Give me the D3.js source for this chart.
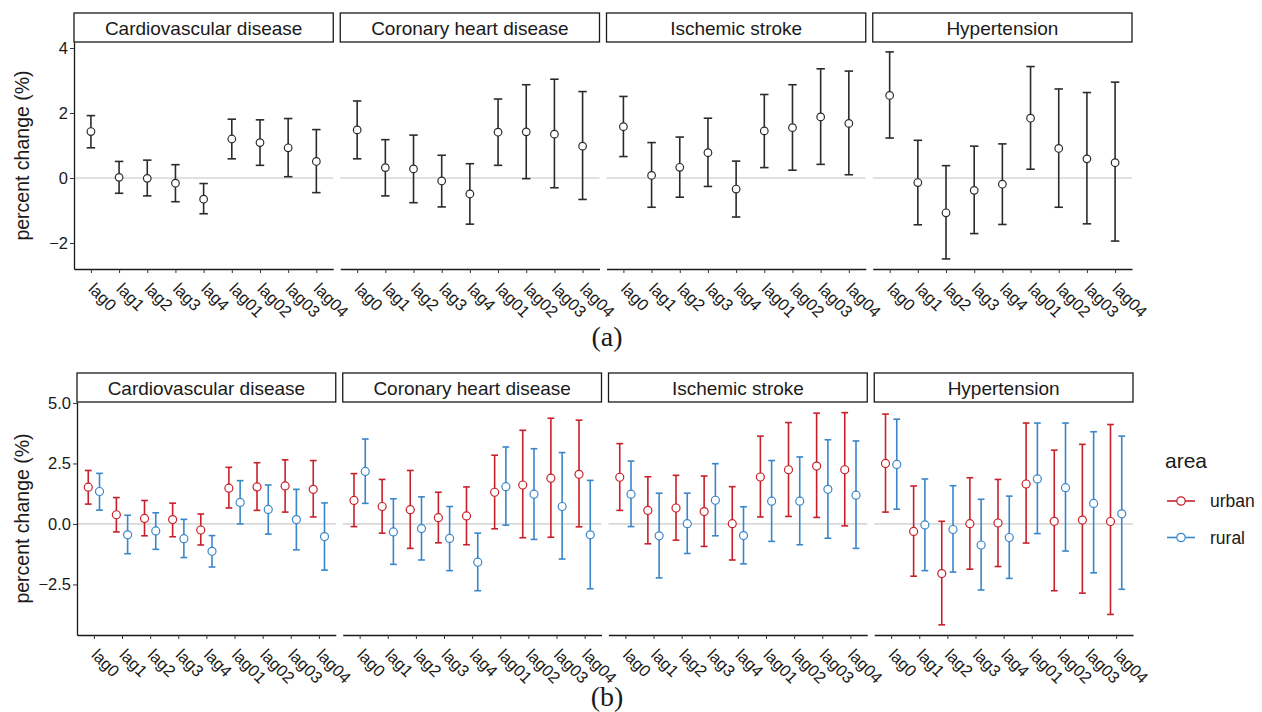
<!DOCTYPE html>
<html>
<head>
<meta charset="utf-8">
<script src="https://cdn.jsdelivr.net/npm/d3@7"></script>
<style>
  body { margin: 0; background: #fff; }
  svg text { font-family: "Liberation Sans", Arial, sans-serif; fill: #1a1a1a; }
</style>
</head>
<body>
<svg id="chart" width="1262" height="712"></svg>
<script>
// Categories
const lags = ['lag0', 'lag1', 'lag2', 'lag3', 'lag4', 'lag01', 'lag02', 'lag03', 'lag04'];
const diseases = ['Cardiovascular disease', 'Coronary heart disease', 'Ischemic stroke', 'Hypertension'];
const areas = ['urban', 'rural'];
const areaColors = ['#c8202a', '#3a86c8'];

// (a) overall estimates, one row per disease
const overallEst = [
    [1.43, 0.02, -0.01, -0.16, -0.65, 1.20, 1.09, 0.93, 0.51],
    [1.48, 0.32, 0.28, -0.09, -0.49, 1.41, 1.42, 1.35, 0.98],
    [1.58, 0.08, 0.33, 0.78, -0.34, 1.45, 1.55, 1.88, 1.68],
    [2.54, -0.14, -1.07, -0.38, -0.19, 1.84, 0.91, 0.59, 0.47],
];
const overallLow = [
    [0.93, -0.47, -0.55, -0.73, -1.10, 0.59, 0.39, 0.04, -0.45],
    [0.59, -0.55, -0.76, -0.89, -1.42, 0.39, -0.02, -0.30, -0.66],
    [0.66, -0.90, -0.59, -0.26, -1.20, 0.32, 0.24, 0.42, 0.10],
    [1.23, -1.44, -2.49, -1.71, -1.43, 0.27, -0.90, -1.41, -1.94],
];
const overallHigh = [
    [1.92, 0.51, 0.55, 0.41, -0.17, 1.81, 1.79, 1.83, 1.49],
    [2.37, 1.18, 1.32, 0.70, 0.44, 2.43, 2.87, 3.04, 2.66],
    [2.51, 1.09, 1.26, 1.84, 0.52, 2.57, 2.87, 3.36, 3.29],
    [3.88, 1.16, 0.38, 0.98, 1.05, 3.43, 2.74, 2.63, 2.95],
];

// (b) urban estimates
const urbanEst = [
    [1.52, 0.38, 0.23, 0.18, -0.25, 1.48, 1.53, 1.57, 1.43],
    [0.97, 0.72, 0.59, 0.26, 0.33, 1.31, 1.61, 1.89, 2.05],
    [1.93, 0.56, 0.66, 0.51, 0.01, 1.94, 2.24, 2.39, 2.24],
    [2.50, -0.31, -2.05, 0.01, 0.04, 1.65, 0.11, 0.16, 0.10],
];
const urbanLow = [
    [0.82, -0.33, -0.49, -0.53, -0.87, 0.66, 0.56, 0.49, 0.29],
    [-0.11, -0.38, -1.01, -0.78, -0.86, -0.20, -0.57, -0.55, -0.12],
    [0.56, -0.82, -0.67, -0.93, -1.49, 0.29, 0.31, 0.27, -0.08],
    [0.49, -2.16, -4.17, -1.87, -1.76, -0.79, -2.76, -2.86, -3.74],
];
const urbanHigh = [
    [2.21, 1.09, 0.97, 0.86, 0.41, 2.34, 2.53, 2.65, 2.62],
    [2.08, 1.84, 2.21, 1.31, 1.53, 2.84, 3.87, 4.37, 4.29],
    [3.32, 1.95, 2.01, 1.98, 1.54, 3.63, 4.19, 4.58, 4.60],
    [4.54, 1.57, 0.11, 1.91, 1.84, 4.17, 3.05, 3.29, 4.11],
];

// (b) rural estimates
const ruralEst = [
    [1.34, -0.45, -0.29, -0.61, -1.13, 0.89, 0.60, 0.18, -0.52],
    [2.17, -0.33, -0.19, -0.60, -1.58, 1.54, 1.23, 0.72, -0.45],
    [1.23, -0.49, 0.01, 0.98, -0.48, 0.94, 0.94, 1.43, 1.19],
    [2.46, -0.04, -0.23, -0.87, -0.56, 1.86, 1.50, 0.85, 0.42],
];
const ruralLow = [
    [0.57, -1.23, -1.05, -1.39, -1.78, 0.00, -0.42, -1.07, -1.91],
    [0.85, -1.67, -1.49, -1.93, -2.76, -0.05, -0.64, -1.45, -2.68],
    [-0.11, -2.23, -1.22, -0.49, -1.65, -0.72, -0.86, -0.59, -1.01],
    [0.61, -1.93, -1.99, -2.73, -2.25, -0.40, -1.12, -2.02, -2.70],
];
const ruralHigh = [
    [2.09, 0.36, 0.46, 0.19, -0.48, 1.79, 1.61, 1.43, 0.87],
    [3.51, 1.04, 1.12, 0.72, -0.38, 3.18, 3.11, 2.95, 1.80],
    [2.60, 1.27, 1.27, 2.49, 0.71, 2.62, 2.77, 3.48, 3.43],
    [4.33, 1.86, 1.58, 1.02, 1.15, 4.17, 4.17, 3.81, 3.63],
];

// Axis ticks
const ticksA = [-2, 0, 2, 4];
const ticksB = [-2.5, 0, 2.5, 5];

const svg = d3.select('#chart');

// Draw one row of four facets
function drawPanel(cfg) {
    const gap = 7;
    const fw = (cfg.right - cfg.left - 3 * gap) / 4;
    const plotTop = cfg.top + 29;

    const y = d3.scaleLinear().domain(cfg.domain).range([cfg.bottom, plotTop]);

    diseases.forEach((name, i) => {
        const x0 = cfg.left + i * (fw + gap);
        const x = d3.scalePoint().domain(lags).range([x0, x0 + fw]).padding(0.6);
        const step = x.step();
        const g = svg.append('g');

        // strip
        g.append('rect')
            .attr('x', x0).attr('y', cfg.top)
            .attr('width', fw).attr('height', 29)
            .attr('fill', '#fff').attr('stroke', '#1a1a1a').attr('stroke-width', 1.3);
        g.append('text')
            .attr('x', x0 + fw / 2).attr('y', cfg.top + 15)
            .attr('text-anchor', 'middle').attr('dominant-baseline', 'central')
            .style('font-size', '19px')
            .text(name);

        // zero reference line
        g.append('line')
            .attr('x1', x0).attr('x2', x0 + fw)
            .attr('y1', y(0)).attr('y2', y(0))
            .attr('stroke', cfg.zeroColor).attr('stroke-width', cfg.zeroWidth);

        // error bars + points for each series
        cfg.series.forEach((s) => {
            const cap = cfg.capFrac * step;
            lags.forEach((lag, j) => {
                const cx = x(lag) + s.offset * step;
                const bar = g.append('g')
                    .attr('stroke', s.color).attr('stroke-width', 1.6).attr('fill', 'none');
                bar.append('line')
                    .attr('x1', cx).attr('x2', cx)
                    .attr('y1', y(s.low[i][j])).attr('y2', y(s.high[i][j]));
                bar.append('line')
                    .attr('x1', cx - cap).attr('x2', cx + cap)
                    .attr('y1', y(s.low[i][j])).attr('y2', y(s.low[i][j]));
                bar.append('line')
                    .attr('x1', cx - cap).attr('x2', cx + cap)
                    .attr('y1', y(s.high[i][j])).attr('y2', y(s.high[i][j]));
                g.append('circle')
                    .attr('cx', cx).attr('cy', y(s.est[i][j]))
                    .attr('r', cfg.radius)
                    .attr('fill', '#fff').attr('stroke', s.color).attr('stroke-width', 1.2);
            });
        });

        // bottom axis with rotated labels
        const xAxis = g.append('g')
            .attr('transform', `translate(0,${cfg.bottom})`)
            .call(d3.axisBottom(x).tickSize(4).tickSizeOuter(0));
        xAxis.select('.domain').attr('stroke', '#1a1a1a').attr('stroke-width', 1.3);
        xAxis.selectAll('.tick line').attr('stroke', '#333');
        xAxis.selectAll('.tick text')
            .attr('x', 0).attr('y', 0).attr('dy', 0)
            .attr('text-anchor', 'start')
            .attr('transform', 'translate(-4,21) rotate(45)')
            .style('font-size', '16.5px')
            .style('font-family', '"Liberation Sans", Arial, sans-serif')
            .attr('fill', '#1a1a1a');

        // left axis only on first facet
        if (i === 0) {
            const yAxis = g.append('g')
                .attr('transform', `translate(${x0},0)`)
                .call(d3.axisLeft(y).tickValues(cfg.ticks).tickFormat(cfg.format).tickSize(4).tickSizeOuter(0));
            yAxis.select('.domain').attr('stroke', '#1a1a1a').attr('stroke-width', 1.3);
            yAxis.selectAll('.tick line').attr('stroke', '#333');
            yAxis.selectAll('.tick text')
                .attr('x', -6)
                .style('font-size', '16.5px')
                .style('font-family', '"Liberation Sans", Arial, sans-serif')
                .attr('fill', '#1a1a1a');
        }
    });

    // y axis title
    svg.append('text')
        .attr('transform', `translate(29,${(plotTop + cfg.bottom) / 2}) rotate(-90)`)
        .attr('text-anchor', 'middle')
        .style('font-size', '19.5px')
        .text('percent change (%)');

    // caption under the panel
    svg.append('text')
        .attr('x', 607).attr('y', cfg.captionY)
        .attr('text-anchor', 'middle')
        .style('font-family', '"Liberation Serif", "Times New Roman", serif')
        .style('font-size', '28px')
        .text(cfg.caption);
}

// (a) overall
drawPanel({
    top: 13, bottom: 269, left: 74, right: 1132,
    domain: [-2.8, 4.185], ticks: ticksA, format: d3.format('d'),
    zeroColor: '#c4c4c4', zeroWidth: 1.1,
    capFrac: 0.15, radius: 3.8,
    caption: '(a)', captionY: 346,
    series: [{ est: overallEst, low: overallLow, high: overallHigh, color: '#2b2b2b', offset: 0 }],
});

// (b) urban vs rural
drawPanel({
    top: 373, bottom: 635, left: 77, right: 1133,
    domain: [-4.59, 5.04], ticks: ticksB, format: d3.format('.1f'),
    zeroColor: '#d9d9d9', zeroWidth: 1.8,
    capFrac: 0.12, radius: 4,
    caption: '(b)', captionY: 706,
    series: [
        { est: urbanEst, low: urbanLow, high: urbanHigh, color: areaColors[0], offset: -0.2 },
        { est: ruralEst, low: ruralLow, high: ruralHigh, color: areaColors[1], offset: 0.2 },
    ],
});

// Legend for area
const legend = svg.append('g').attr('transform', 'translate(1165,0)');
legend.append('text')
    .attr('x', 0).attr('y', 468)
    .style('font-size', '21px')
    .text('area');
areas.forEach((a, k) => {
    const ly = 501 + k * 36.5;
    legend.append('line')
        .attr('x1', 2).attr('x2', 30).attr('y1', ly).attr('y2', ly)
        .attr('stroke', areaColors[k]).attr('stroke-width', 1.6);
    legend.append('circle')
        .attr('cx', 16).attr('cy', ly).attr('r', 4.2)
        .attr('fill', '#fff').attr('stroke', areaColors[k]).attr('stroke-width', 1.2);
    legend.append('text')
        .attr('x', 45).attr('y', ly).attr('dominant-baseline', 'central')
        .style('font-size', '17.5px')
        .text(a);
});
</script>
</body>
</html>
